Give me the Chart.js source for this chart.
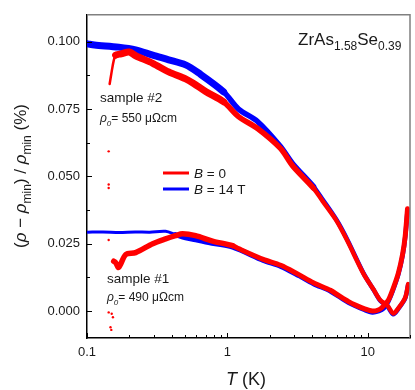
<!DOCTYPE html>
<html>
<head>
<meta charset="utf-8">
<script src="https://cdn.jsdelivr.net/npm/chart.js@4"></script>
<style>
  body { margin: 0; background: #fff; }
  canvas { display: block; }
</style>
</head>
<body>
<canvas id="chart" width="415" height="390"></canvas>
<script>
// sample #2, B = 0
const s2ZeroT = [0.145, 0.150, 0.155, 0.160, 0.175, 0.200, 0.222, 0.294, 0.382, 0.504, 0.575, 0.700, 0.940, 1.20, 1.64, 2.39, 2.91, 4.11, 4.76, 6.00, 7.17, 9.32, 11.0, 12.3, 13.8, 15.2, 16.5, 18.5, 19.4];
const s2ZeroVal = [0.0843, 0.0890, 0.0930, 0.0950, 0.0955, 0.0962, 0.0948, 0.0920, 0.0888, 0.0862, 0.0845, 0.0815, 0.0777, 0.0722, 0.0678, 0.0604, 0.0540, 0.0456, 0.0409, 0.0335, 0.0260, 0.0139, 0.0080, 0.0040, 0.0021, -0.0009, 0.0010, 0.0050, 0.0100];
// sample #2, B = 14 T
const s2FieldT = [0.101, 0.113, 0.168, 0.222, 0.294, 0.382, 0.504, 0.620, 0.940, 1.20, 1.64, 2.39, 2.91, 4.11, 4.76, 6.00, 7.17, 9.32, 11.0, 12.3, 13.8, 15.2, 16.5, 18.5, 19.4];
const s2FieldVal = [0.0992, 0.0988, 0.0980, 0.0970, 0.0950, 0.0933, 0.0914, 0.0885, 0.0814, 0.0750, 0.0704, 0.0611, 0.0548, 0.0462, 0.0415, 0.0338, 0.0264, 0.0141, 0.0079, 0.0038, 0.0018, -0.0012, 0.0008, 0.0048, 0.0098];
// sample #1, B = 0
const s1ZeroT = [0.155, 0.160, 0.168, 0.189, 0.222, 0.294, 0.363, 0.427, 0.479, 0.594, 0.784, 1.09, 1.20, 1.80, 2.40, 3.16, 4.10, 5.43, 6.19, 7.30, 8.18, 9.50, 10.8, 12.0, 12.7, 14.0, 15.0, 16.5, 17.7, 18.5, 19.2];
const s1ZeroVal = [0.0185, 0.0180, 0.0162, 0.0210, 0.0217, 0.0250, 0.0268, 0.0280, 0.0287, 0.0280, 0.0260, 0.0243, 0.0232, 0.0192, 0.0170, 0.0138, 0.0105, 0.0077, 0.0058, 0.0035, 0.0022, 0.0008, 0.0000, 0.0005, 0.0014, 0.0040, 0.0077, 0.0140, 0.0210, 0.0280, 0.0380];
// sample #1, B = 14 T
const s1FieldT = [0.101, 0.130, 0.170, 0.220, 0.280, 0.363, 0.427, 0.504, 0.594, 0.734, 1.09, 1.80, 2.40, 3.16, 4.10, 5.43, 7.30, 9.50, 10.8, 12.0, 13.0, 14.0, 15.0, 16.5, 17.7, 18.5, 19.2];
const s1FieldVal = [0.0293, 0.0294, 0.0292, 0.0294, 0.0293, 0.0296, 0.0284, 0.0272, 0.0265, 0.0254, 0.0237, 0.0188, 0.0166, 0.0134, 0.0101, 0.0073, 0.0031, 0.0004, -0.0005, 0.0000, 0.0010, 0.0035, 0.0072, 0.0135, 0.0205, 0.0275, 0.0375];
// stray B = 0 points at the lowest temperature
const strayT = [0.1427, 0.1427, 0.1427, 0.1427, 0.1427, 0.150, 0.153, 0.147, 0.149];
const strayVal = [0.0593, 0.0470, 0.0457, 0.0264, -0.0005, -0.0010, -0.0023, -0.0060, -0.0070];

const yMajor = [0, 0.025, 0.05, 0.075, 0.1];
const yMinor = [0.0125, 0.0375, 0.0625, 0.0875];
const xMajor = [0.1, 1, 10];

const RED = '#ff0000';
const BLUE = '#0000ff';
const FONT = '"Liberation Sans", Arial, sans-serif';
const INK = '#1a1a1a';

function toPoints(ts, vals) {
	return ts.map((t, i) => ({ x: t, y: vals[i] }));
}

// thicker band where the measurement is noisier
function bandWidth(steps, last) {
	return function(ctx) {
		let t = ctx.p0.parsed.x;
		for (let s of steps) {
			if (t < s[0]) return s[1];
		}
		return last;
	};
}

function curve(ts, vals, color, order, steps, last) {
	return {
		data: toPoints(ts, vals),
		borderColor: color,
		backgroundColor: color,
		borderWidth: last,
		borderCapStyle: 'round',
		borderJoinStyle: 'round',
		pointRadius: 0,
		tension: 0.3,
		order: order,
		segment: { borderWidth: bandWidth(steps, last) }
	};
}

// draw a run of text pieces: {t, it, sub}
function richText(ctx, x, y, parts, size, align) {
	let subSize = Math.round(size * 0.68);
	let w = 0;
	parts.forEach(p => {
		ctx.font = (p.it ? 'italic ' : '') + (p.sub ? subSize : size) + 'px ' + FONT;
		p.w = ctx.measureText(p.t).width;
		w += p.w;
	});
	let cx = align === 'center' ? x - w / 2 : x;
	ctx.textBaseline = 'alphabetic';
	ctx.textAlign = 'left';
	parts.forEach(p => {
		ctx.font = (p.it ? 'italic ' : '') + (p.sub ? subSize : size) + 'px ' + FONT;
		ctx.fillText(p.t, cx, y + (p.sub ? size * 0.3 : 0));
		cx += p.w;
	});
}

const decorPlugin = {
	id: 'decor',
	afterDraw(chart) {
		let ctx = chart.ctx;
		let a = chart.chartArea;
		let xs = chart.scales.x;
		let ys = chart.scales.y;
		ctx.save();

		// grey frame top and right
		ctx.strokeStyle = '#808080';
		ctx.lineWidth = 1.5;
		ctx.beginPath();
		ctx.moveTo(a.left, a.top);
		ctx.lineTo(a.right, a.top);
		ctx.lineTo(a.right, a.bottom);
		ctx.stroke();

		// inward ticks
		ctx.strokeStyle = '#000';
		ctx.lineWidth = 1;
		ctx.beginPath();
		yMajor.forEach(v => {
			let py = Math.round(ys.getPixelForValue(v)) + 0.5;
			ctx.moveTo(a.left, py); ctx.lineTo(a.left + 5, py);
		});
		yMinor.forEach(v => {
			let py = Math.round(ys.getPixelForValue(v)) + 0.5;
			ctx.moveTo(a.left, py); ctx.lineTo(a.left + 3, py);
		});
		[0.1, 1, 10].forEach(d => {
			for (let k = 1; k < 10; k++) {
				let v = d * k;
				if (v > xs.max) break;
				let px = Math.round(xs.getPixelForValue(v)) + 0.5;
				let len = k === 1 ? 5 : 3;
				ctx.moveTo(px, a.bottom); ctx.lineTo(px, a.bottom - len);
			}
		});
		ctx.stroke();

		ctx.fillStyle = INK;
		// axis titles
		richText(ctx, 246, 385, [{ t: 'T', it: true }, { t: ' (K)' }], 18, 'center');
		ctx.save();
		ctx.translate(26, 176);
		ctx.rotate(-Math.PI / 2);
		richText(ctx, 0, 0, [
			{ t: '(' }, { t: 'ρ', it: true }, { t: ' − ' }, { t: 'ρ', it: true }, { t: 'min', sub: true },
			{ t: ') / ' }, { t: 'ρ', it: true }, { t: 'min', sub: true }, { t: ' (%)' }
		], 17, 'center');
		ctx.restore();

		// labels in the plot
		richText(ctx, 298, 45, [{ t: 'ZrAs' }, { t: '1.58', sub: true }, { t: 'Se' }, { t: '0.39', sub: true }], 17, 'left');
		richText(ctx, 100, 102, [{ t: 'sample #2' }], 13.5, 'left');
		richText(ctx, 100, 122, [{ t: 'ρ', it: true }, { t: '0', it: true, sub: true }, { t: '= 550 μΩcm' }], 12, 'left');
		richText(ctx, 107, 283, [{ t: 'sample #1' }], 13.5, 'left');
		richText(ctx, 107, 301, [{ t: 'ρ', it: true }, { t: '0', it: true, sub: true }, { t: '= 490 μΩcm' }], 12, 'left');

		// legend
		let legend = [[RED, 173, ' = 0'], [BLUE, 189, ' = 14 T']];
		legend.forEach(l => {
			ctx.strokeStyle = l[0];
			ctx.lineWidth = 3;
			ctx.beginPath();
			ctx.moveTo(163, l[1]); ctx.lineTo(189, l[1]);
			ctx.stroke();
			richText(ctx, 194, l[1] + 5, [{ t: 'B', it: true }, { t: l[2] }], 13.5, 'left');
		});
		ctx.restore();
	}
};

let datasets = [
	curve(s2FieldT, s2FieldVal, BLUE, 3, [[0.8, 7], [3, 5.5]], 4.5),
	curve(s1FieldT, s1FieldVal, BLUE, 3, [[0.4, 3], [3, 5]], 4.5),
	curve(s2ZeroT, s2ZeroVal, RED, 1, [[0.158, 2.5], [0.8, 7], [3, 5.5]], 4.5),
	curve(s1ZeroT, s1ZeroVal, RED, 1, [[0.8, 5.5]], 5),
	{
		data: toPoints(strayT, strayVal),
		showLine: false,
		pointRadius: 1.2,
		pointBorderWidth: 0,
		pointBackgroundColor: RED,
		order: 0
	}
];

new Chart(document.getElementById('chart'), {
	type: 'line',
	data: { datasets: datasets },
	options: {
		responsive: false,
		animation: false,
		devicePixelRatio: 1,
		layout: { padding: { left: 0, right: 5, top: 13, bottom: 0 } },
		plugins: { legend: { display: false }, tooltip: { enabled: false } },
		scales: {
			x: {
				type: 'logarithmic',
				min: 0.1,
				max: 20,
				grid: { display: false, drawTicks: false },
				border: { display: true, color: '#000', width: 1.5 },
				ticks: {
					color: INK,
					font: { family: FONT, size: 13 },
					padding: 7,
					maxRotation: 0,
					autoSkip: false,
					callback: v => (v < 1 ? '0.1' : String(v))
				},
				afterBuildTicks: s => { s.ticks = xMajor.map(v => ({ value: v })); },
				afterFit: s => { s.height = 52; }
			},
			y: {
				min: -0.01,
				max: 0.11,
				grid: { display: false, drawTicks: false },
				border: { display: true, color: '#000', width: 1.5 },
				ticks: {
					color: INK,
					font: { family: FONT, size: 13 },
					padding: 7,
					callback: v => v.toFixed(3)
				},
				afterBuildTicks: s => { s.ticks = yMajor.map(v => ({ value: v })); },
				afterFit: s => { s.width = 87; }
			}
		}
	},
	plugins: [decorPlugin]
});
</script>
</body>
</html>
